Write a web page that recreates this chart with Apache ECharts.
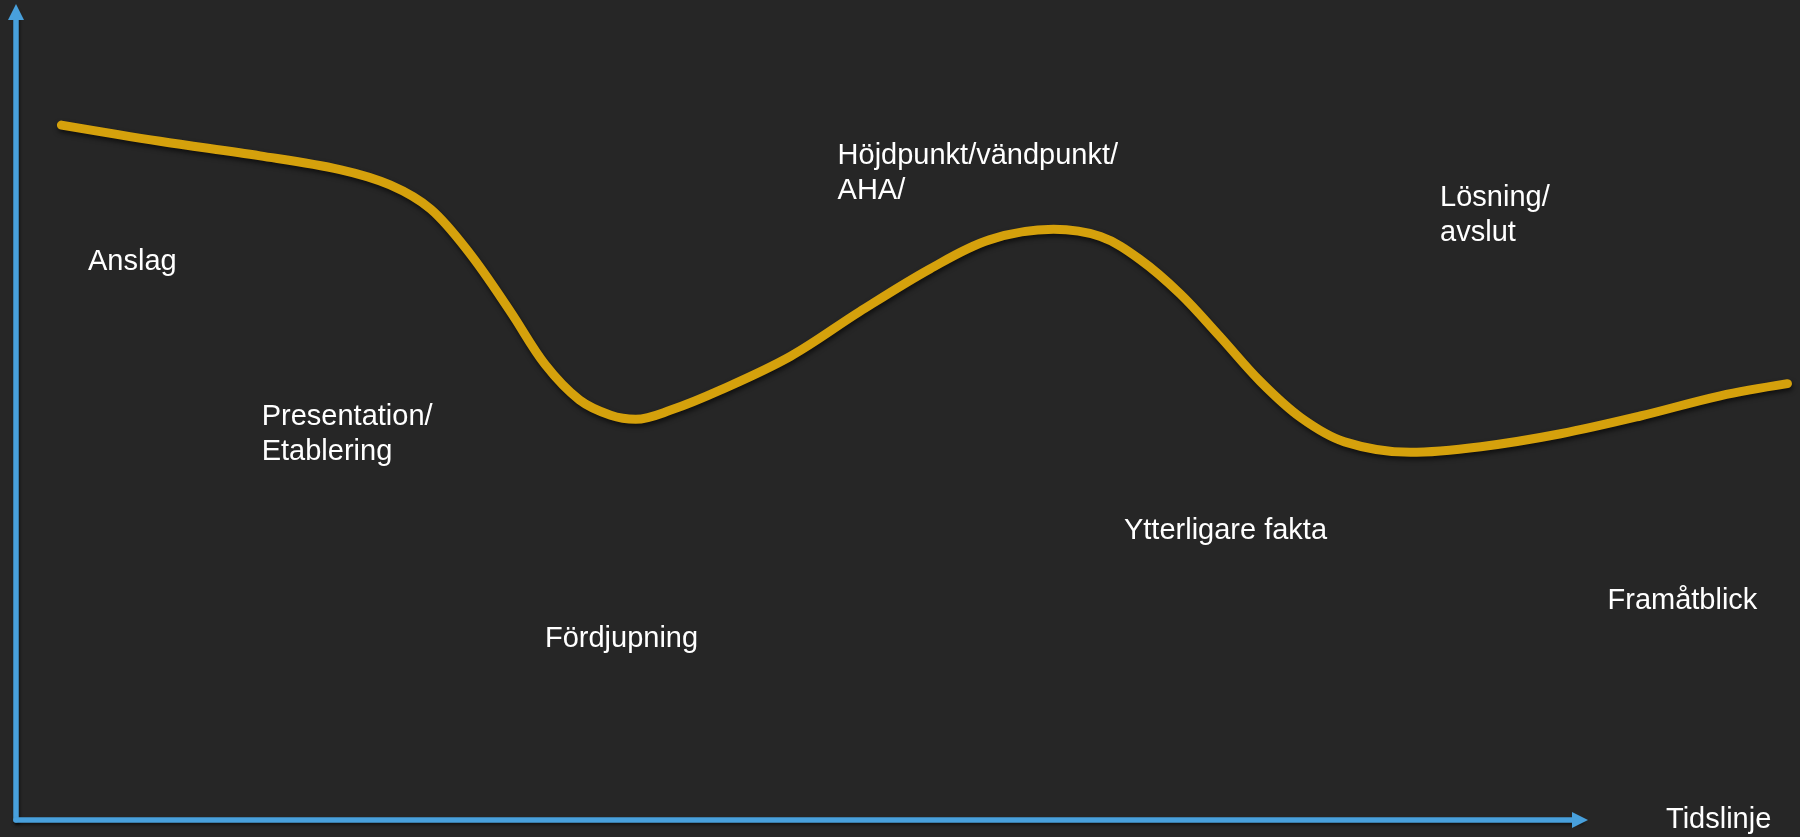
<!DOCTYPE html>
<html>
<head>
<meta charset="utf-8">
<title>Dramaturgisk kurva</title>
<script src="https://cdn.jsdelivr.net/npm/echarts@6/dist/echarts.min.js"></script>
<style>
  html, body { margin: 0; padding: 0; background: #262626; }
  #storyChart { width: 1800px; height: 837px; }
</style>
</head>
<body>
<div id="storyChart"></div>
<script>
// curve: time along the x axis, tension on the y axis
const curveTime = [2.9, 9.2, 15.6, 20.7, 23.9, 26.5, 29.0, 31.6, 33.8, 36.0, 38.0, 39.6, 41.8, 45.0, 49.5,
  53.9, 58.4, 62.2, 66.3, 69.3, 71.8, 74.4, 76.9, 79.5, 82.1, 84.9, 89.1, 93.6, 98.7, 103.8, 108.9, 113.2];
const curveTension = [86.0, 84.0, 82.2, 80.5, 78.6, 75.6, 70.1, 62.9, 56.4, 52.0, 50.1, 49.6, 50.7, 53.2, 57.4,
  62.9, 68.2, 71.8, 73.1, 72.2, 69.4, 65.1, 59.9, 54.3, 49.8, 46.8, 45.5, 46.2, 47.8, 50.0, 52.5, 54.0];

// stage labels
const stageNames = ['Anslag', 'Presentation/\nEtablering', 'Fördjupning', 'Höjdpunkt/vändpunkt/\nAHA/',
  'Ytterligare fakta', 'Lösning/\navslut', 'Framåtblick'];
const stageTime = [4.6, 15.7, 33.8, 52.5, 70.8, 91.0, 101.7];
const stageLevel = [71.2, 52.1, 24.6, 84.4, 37.9, 79.2, 29.3];

const axisName = 'Tidslinje';

const storyChart = echarts.init(document.getElementById('storyChart'));

const axisLineStyle = {
  color: '#48A0DC',
  width: 5.5,
  shadowColor: 'rgba(0,0,0,0.55)',
  shadowBlur: 3,
  shadowOffsetX: 1,
  shadowOffsetY: 2
};

const hiddenAxis = {
  type: 'value',
  min: 0,
  show: false,
  splitLine: { show: false }
};

let storyOptions = {
  backgroundColor: '#262626',
  animation: false,
  grid: [
    // the drawn axes with arrows
    { left: 16, right: 220, top: 12, bottom: 17 },
    // the curve and stage texts, same scale but running past the arrow
    { left: 16, right: 0, top: 12, bottom: 17 }
  ],
  xAxis: [
    {
      type: 'value',
      gridIndex: 0,
      min: 0,
      max: 100,
      name: axisName,
      nameLocation: 'end',
      nameGap: 86,
      nameTextStyle: { color: '#ffffff', fontSize: 29, fontFamily: 'Liberation Sans', padding: [5, 0, 0, 0] },
      axisLine: { show: true, symbol: ['none', 'triangle'], symbolSize: [16, 16], lineStyle: axisLineStyle },
      axisTick: { show: false },
      axisLabel: { show: false },
      splitLine: { show: false }
    },
    Object.assign({}, hiddenAxis, { gridIndex: 1, max: 114 })
  ],
  yAxis: [
    {
      type: 'value',
      gridIndex: 0,
      min: 0,
      max: 100,
      axisLine: { show: true, symbol: ['none', 'triangle'], symbolSize: [16, 16], lineStyle: axisLineStyle },
      axisTick: { show: false },
      axisLabel: { show: false },
      splitLine: { show: false }
    },
    Object.assign({}, hiddenAxis, { gridIndex: 1, max: 100 })
  ],
  series: [
    {
      type: 'line',
      xAxisIndex: 1,
      yAxisIndex: 1,
      data: curveTime.map((t, i) => [t, curveTension[i]]),
      smooth: 0.35,
      showSymbol: false,
      clip: false,
      silent: true,
      lineStyle: {
        color: '#D5A10C',
        width: 9,
        cap: 'round',
        join: 'round',
        shadowColor: 'rgba(0,0,0,0.6)',
        shadowBlur: 5,
        shadowOffsetX: 1,
        shadowOffsetY: 3
      }
    },
    {
      type: 'scatter',
      xAxisIndex: 1,
      yAxisIndex: 1,
      symbolSize: 0,
      clip: false,
      silent: true,
      itemStyle: { opacity: 1 },
      data: stageNames.map((n, i) => ({ name: n, value: [stageTime[i], stageLevel[i]] })),
      label: {
        show: true,
        position: [0, 0],
        formatter: '{b}',
        color: '#ffffff',
        fontSize: 29,
        lineHeight: 35,
        fontFamily: 'Liberation Sans'
      }
    }
  ]
};
storyChart.setOption(storyOptions);
</script>
</body>
</html>
